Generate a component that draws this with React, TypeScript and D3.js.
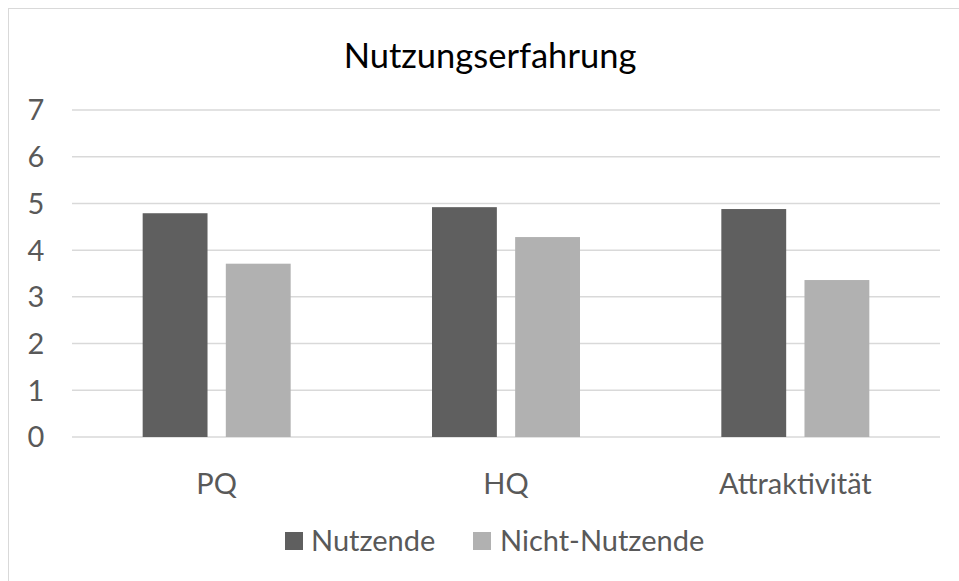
import * as d3 from 'd3'

const categories = ['PQ', 'HQ', 'Attraktivität']
const seriesNames = ['Nutzende', 'Nicht-Nutzende']
const nutzende = [4.79, 4.92, 4.88]
const nichtNutzende = [3.71, 4.28, 3.36]
const yTicks = [0, 1, 2, 3, 4, 5, 6, 7]
const colors = ['#5f5f5f', '#b1b1b1']

const W = 959
const H = 581
const FONT = 'Lato, "Open Sans", sans-serif'

export default function App() {
  const margin = { top: 110, right: 19, bottom: 144, left: 72 }
  const innerW = W - margin.left - margin.right
  const innerH = H - margin.top - margin.bottom

  const x = d3.scaleBand().domain(categories).range([0, innerW]).paddingInner(0).paddingOuter(0)
  const x1 = d3.scaleBand().domain(seriesNames).range([0, 148]).paddingInner(0.22)
  const y = d3.scaleLinear().domain([0, 7]).range([innerH, 0])

  const series = [nutzende, nichtNutzende]

  return (
    <svg width={W} height={H} style={{ position: 'absolute', left: 0, top: 0 }}>
      <rect x={0} y={0} width={W} height={H} fill="#fff" />
      <rect x={8.5} y={8.5} width={W + 10} height={H + 10} fill="none" stroke="#d9d9d9" strokeWidth={1} />
      <text x={490} y={68} textAnchor="middle" fontFamily={FONT} fontSize={34.5} fill="#000">
        Nutzungserfahrung
      </text>
      <g transform={`translate(${margin.left},${margin.top})`}>
        {yTicks.map(t => (
          <g key={t}>
            <line x1={0} x2={innerW} y1={y(t)} y2={y(t)} stroke="#d9d9d9" strokeWidth={1.5} />
            <text x={-36} y={y(t)} dy="0.36em" textAnchor="middle" fontFamily={FONT} fontSize={29} fill="#595959">
              {t}
            </text>
          </g>
        ))}
        {categories.map((c, i) => {
          const gx = (x(c) ?? 0) + x.bandwidth() / 2 - 74
          return (
            <g key={c} transform={`translate(${gx},0)`}>
              {seriesNames.map((s, j) => (
                <rect
                  key={s}
                  x={x1(s)}
                  y={y(series[j][i])}
                  width={x1.bandwidth()}
                  height={innerH - y(series[j][i])}
                  fill={colors[j]}
                />
              ))}
            </g>
          )
        })}
        {categories.map(c => (
          <text
            key={c}
            x={(x(c) ?? 0) + x.bandwidth() / 2}
            y={innerH + 57}
            textAnchor="middle"
            fontFamily={FONT}
            fontSize={29}
            fill="#595959"
          >
            {c}
          </text>
        ))}
      </g>
      <g transform="translate(285,532)">
        <rect x={0} y={0} width={18} height={18} fill={colors[0]} />
        <text x={26} y={9} dy="0.36em" fontFamily={FONT} fontSize={29} fill="#595959">
          {seriesNames[0]}
        </text>
        <rect x={188} y={0} width={18} height={18} fill={colors[1]} />
        <text x={215} y={9} dy="0.36em" fontFamily={FONT} fontSize={29} fill="#595959">
          {seriesNames[1]}
        </text>
      </g>
    </svg>
  )
}
